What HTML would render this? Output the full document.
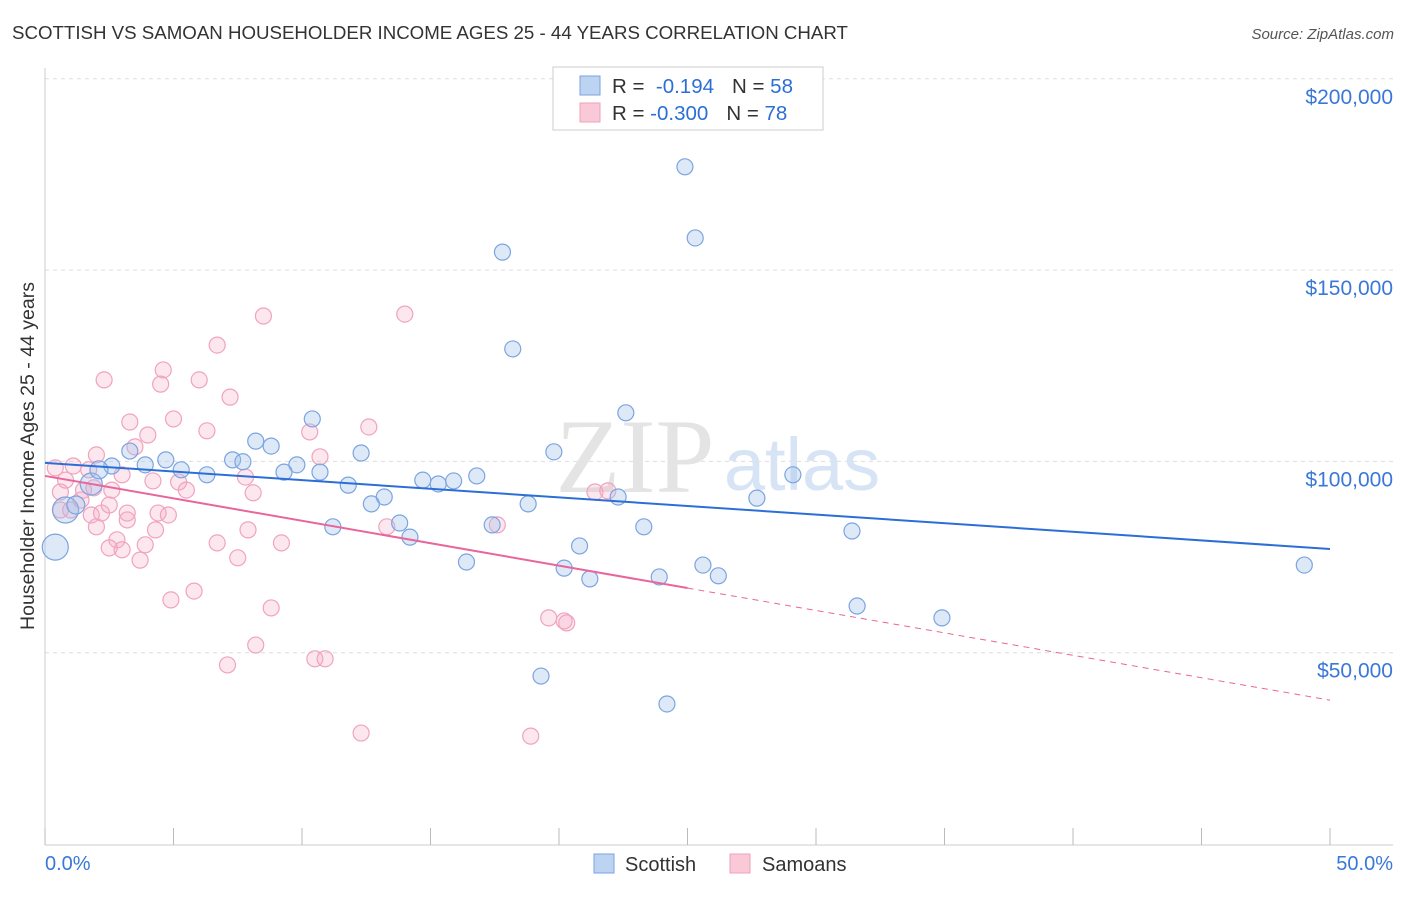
<!DOCTYPE html>
<html><head><meta charset="utf-8"><style>
body{margin:0;background:#fff;font-family:"Liberation Sans",sans-serif;}
</style></head><body>
<svg id="chart" width="1406" height="892" xmlns="http://www.w3.org/2000/svg" font-family="Liberation Sans, sans-serif">
<text x="12" y="39" font-size="18.7" fill="#333">SCOTTISH VS SAMOAN HOUSEHOLDER INCOME AGES 25 - 44 YEARS CORRELATION CHART</text>
<text x="1394" y="39" font-size="15" fill="#555" font-style="italic" text-anchor="end">Source: ZipAtlas.com</text>
<g id="grid"></g>
<text x="635" y="492" font-size="106" fill="#e4e4e4" font-family="Liberation Serif, serif" text-anchor="middle">ZIP</text>
<text x="802" y="490" font-size="74" fill="#d6e4f5" text-anchor="middle">atlas</text>
<g id="pts"></g>
<g id="lines"></g>
<text x="34" y="456" font-size="19.5" fill="#333" text-anchor="middle" transform="rotate(-90 34 456)">Householder Income Ages 25 - 44 years</text>
<text x="45" y="870" font-size="20" fill="#3a78d8">0.0%</text>
<text x="1393" y="870" font-size="20" fill="#3a78d8" text-anchor="end">50.0%</text>
<g>
<rect x="553" y="67" width="270" height="63" fill="#fff" stroke="#ccc"/>
<rect x="580" y="76" width="20" height="19" fill="#bcd3f2" stroke="#7aa3e0"/>
<rect x="580" y="103" width="20" height="19" fill="#f9c9d8" stroke="#f0a0bb"/>
<text x="612" y="93" font-size="20.5" fill="#333">R = <tspan fill="#2b6fd6">&#160;-0.194</tspan><tspan dx="18" fill="#333">N = </tspan><tspan fill="#2b6fd6">58</tspan></text>
<text x="612" y="120" font-size="20.5" fill="#333">R = <tspan fill="#2b6fd6">-0.300</tspan><tspan dx="18" fill="#333">N = </tspan><tspan fill="#2b6fd6">78</tspan></text>
</g>
<g>
<rect x="594" y="854" width="20" height="19" fill="#bcd3f2" stroke="#7aa3e0"/>
<text x="625" y="871" font-size="20" fill="#333">Scottish</text>
<rect x="730" y="854" width="20" height="19" fill="#f9c9d8" stroke="#f0a0bb"/>
<text x="762" y="871" font-size="20" fill="#333">Samoans</text>
</g>
</svg>
<script>
const yTicks=[50000,100000,150000,200000];
const yTickLabels=["$50,000","$100,000","$150,000","$200,000"];
const xTicks=[0,5,10,15,20,25,30,35,40,45,50];
const blueX=[24.9,25.3,17.8,18.2,22.6,10.4,19.8,8.2,8.8,12.3,3.3,4.7,3.9,2.6,5.3,6.3,7.3,7.7,9.8,9.3,10.7,14.7,15.3,15.9,16.8,11.8,13.2,12.7,18.8,22.3,27.7,29.1,17.4,13.8,11.2,14.2,20.8,23.3,31.4,16.4,20.2,21.2,23.9,25.6,26.2,31.6,34.9,19.3,24.2,49.0,0.4,0.8,1.8,1.2,2.1];
const blueY=[177.0,158.4,154.7,129.4,112.7,111.1,102.5,105.3,104.0,102.2,102.7,100.4,99.1,98.8,97.8,96.5,100.4,99.9,99.1,97.2,97.2,95.1,94.1,94.9,96.2,93.8,90.7,88.9,88.9,90.7,90.4,96.5,83.4,83.9,82.9,80.2,77.9,82.9,81.8,73.7,72.1,69.3,69.8,72.9,70.1,62.2,59.1,43.9,36.6,72.9,77.6,87.3,94.1,88.6,97.8];
const blueR=[8,8,8,8,8,8,8,8,8,8,8,8,8,8,8,8,8,8,8,8,8,8,8,8,8,8,8,8,8,8,8,8,8,8,8,8,8,8,8,8,8,8,8,8,8,8,8,8,8,8,13,13,11,9,9];
const pinkX=[14.0,8.5,6.7,4.6,4.5,6.0,2.3,7.2,5.0,3.3,4.0,6.3,10.3,12.6,10.7,2.0,3.5,0.4,1.1,3.0,4.2,5.2,5.5,7.8,8.1,0.6,1.5,1.9,2.6,0.6,1.8,2.2,3.2,4.4,4.8,3.2,2.0,4.3,7.9,13.3,17.6,21.4,21.9,6.7,9.2,2.8,3.9,2.5,3.0,3.7,7.5,5.8,4.9,8.8,19.6,20.2,20.3,8.2,7.1,10.5,10.9,12.3,18.9,1.0,1.4,0.8,2.5,1.7];
const pinkY=[138.5,138.0,130.4,123.9,120.2,121.3,121.3,116.8,111.1,110.3,106.9,108.0,107.7,109.0,101.2,101.7,103.8,98.3,98.8,96.5,94.9,94.6,92.5,95.9,91.8,92.0,92.5,93.1,92.5,87.3,86.0,86.5,86.5,86.5,86.0,84.7,82.9,82.1,82.1,82.9,83.4,92.0,92.3,78.7,78.7,79.5,78.2,77.4,76.9,74.2,74.8,66.1,63.8,61.7,59.1,58.3,57.8,52.0,46.8,48.4,48.4,29.0,28.2,87.3,89.9,95.1,88.6,97.8];
const blueTrend=[99.6,77.1];
const pinkTrend=[96.2,37.6];
const pinkSolidEnd=25;

const X0=45,X1=1330,Y0=844,PXK=191.3/50;
const sx=v=>X0+(X1-X0)*v/50;
const sy=v=>Y0-v*PXK;
const NS="http://www.w3.org/2000/svg";
function mk(tag,at,parent){const e=document.createElementNS(NS,tag);for(const k in at)e.setAttribute(k,at[k]);parent.appendChild(e);return e;}
const grid=document.getElementById('grid');
yTicks.forEach((t,i)=>{
 const l=mk('line',{x1:X0,x2:1393,y1:sy(t/1000),y2:sy(t/1000),stroke:'#ddd','stroke-dasharray':'4,4'},grid);
 
 
 const tx=mk('text',{x:1393,y:sy(t/1000)+25,'font-size':21,fill:'#3a78d8','text-anchor':'end'},grid);
 tx.textContent=yTickLabels[i];
 
 
});
const ax=mk('line',{x1:X0,x2:X0,y1:68,y2:845,stroke:'#ccc'},grid);


const bx=mk('line',{x1:X0,x2:1393,y1:845,y2:845,stroke:'#ccc'},grid);


xTicks.forEach(t=>{
 const l=mk('line',{x1:sx(t),x2:sx(t),y1:828,y2:845,stroke:'#bbb'},grid);
 
 
});
const pts=document.getElementById('pts');
pinkX.forEach((x,i)=>{
 const c=mk('circle',{cx:sx(x),cy:sy(pinkY[i]),r:8,fill:'rgba(246,170,196,0.28)',stroke:'#f0a3bd','stroke-width':1.2},pts);
 
 
});
blueX.forEach((x,i)=>{
 const c=mk('circle',{cx:sx(x),cy:sy(blueY[i]),r:blueR[i],fill:'rgba(160,192,236,0.35)',stroke:'#7ba4e0','stroke-width':1.2},pts);
 
 
});
const lines=document.getElementById('lines');
const bl=mk('line',{x1:sx(0),y1:sy(blueTrend[0]),x2:sx(50),y2:sy(blueTrend[1]),stroke:'#2b6fd6','stroke-width':2},lines);


const pAt=x=>pinkTrend[0]+(pinkTrend[1]-pinkTrend[0])*x/50;
const pl=mk('line',{x1:sx(0),y1:sy(pAt(0)),x2:sx(pinkSolidEnd),y2:sy(pAt(pinkSolidEnd)),stroke:'#e8669a','stroke-width':2},lines);


const pd=mk('line',{x1:sx(pinkSolidEnd),y1:sy(pAt(pinkSolidEnd)),x2:sx(50),y2:sy(pAt(50)),stroke:'#e8669a','stroke-width':1,'stroke-dasharray':'6,5'},lines);


</script>
</body></html>
